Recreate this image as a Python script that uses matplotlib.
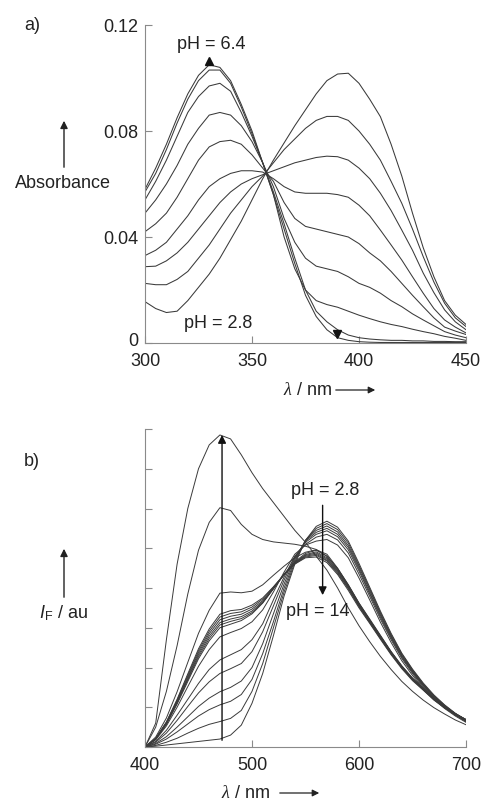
import matplotlib
matplotlib.use('Agg')
import matplotlib.pyplot as plt
from matplotlib.transforms import ScaledTranslation

plt.rcParams['font.family'] = ['Liberation Sans', 'DejaVu Sans']
plt.rcParams['mathtext.fontset'] = 'custom'
plt.rcParams['mathtext.rm'] = 'Liberation Sans'
plt.rcParams['mathtext.it'] = 'Liberation Serif:italic'
plt.rcParams['mathtext.sf'] = 'Liberation Sans:italic'

#===============================================================================
# a) absorbance spectra, pH 2.8 -> 6.4
#===============================================================================
wl_abs = [300, 305, 310, 315, 320, 325, 330, 335, 340, 345, 350, 355, 360, 365, 370, 375,
          380, 385, 390, 395, 400, 405, 410, 415, 420, 425, 430, 435, 440, 445, 450]

abs_ph28 = [0.0156, 0.013, 0.0115, 0.012, 0.016, 0.021, 0.026, 0.032, 0.039, 0.046, 0.054,
            0.062, 0.069, 0.0755, 0.082, 0.088, 0.094, 0.099, 0.1015, 0.1018, 0.098, 0.092,
            0.0854, 0.075, 0.063, 0.049, 0.036, 0.025, 0.016, 0.0105, 0.007]
abs_2 = [0.0225, 0.022, 0.022, 0.024, 0.027, 0.032, 0.037, 0.043, 0.049, 0.054, 0.059, 0.063,
         0.068, 0.073, 0.077, 0.081, 0.084, 0.0855, 0.0855, 0.084, 0.080, 0.075, 0.069, 0.061,
         0.0527, 0.043, 0.0326, 0.023, 0.015, 0.0095, 0.0062]
abs_3 = [0.0288, 0.029, 0.031, 0.034, 0.038, 0.043, 0.048, 0.053, 0.057, 0.060, 0.062, 0.0635,
         0.065, 0.0665, 0.068, 0.069, 0.070, 0.0705, 0.0703, 0.069, 0.066, 0.062, 0.0565, 0.050,
         0.0426, 0.035, 0.0264, 0.019, 0.0125, 0.008, 0.005]
abs_4 = [0.033, 0.035, 0.038, 0.043, 0.048, 0.054, 0.059, 0.062, 0.064, 0.065, 0.065, 0.0645,
         0.062, 0.059, 0.057, 0.0565, 0.0565, 0.0565, 0.056, 0.055, 0.052, 0.048, 0.0426, 0.037,
         0.0313, 0.025, 0.0188, 0.013, 0.0087, 0.006, 0.0038]
abs_5 = [0.042, 0.045, 0.049, 0.055, 0.062, 0.069, 0.074, 0.076, 0.0765, 0.075, 0.071, 0.066,
         0.061, 0.053, 0.047, 0.044, 0.043, 0.042, 0.041, 0.040, 0.0375, 0.034, 0.031, 0.027,
         0.0225, 0.018, 0.0137, 0.0095, 0.006, 0.0045, 0.0032]
abs_6 = [0.049, 0.054, 0.060, 0.067, 0.075, 0.081, 0.086, 0.087, 0.086, 0.082, 0.076, 0.068,
         0.059, 0.047, 0.038, 0.032, 0.029, 0.028, 0.027, 0.025, 0.0225, 0.021, 0.0188, 0.016,
         0.0137, 0.011, 0.0087, 0.0065, 0.0043, 0.003, 0.002]
abs_7 = [0.054, 0.061, 0.069, 0.078, 0.087, 0.093, 0.097, 0.098, 0.095, 0.087, 0.078, 0.068,
         0.056, 0.040, 0.028, 0.020, 0.016, 0.0145, 0.0135, 0.012, 0.0105, 0.0092, 0.008, 0.007,
         0.0062, 0.0052, 0.0043, 0.0035, 0.0025, 0.0018, 0.001]
abs_8 = [0.057, 0.064, 0.073, 0.083, 0.092, 0.099, 0.103, 0.103, 0.098, 0.089, 0.079, 0.068,
         0.057, 0.045, 0.032, 0.020, 0.012, 0.008, 0.005, 0.003, 0.002, 0.0015, 0.0012, 0.001,
         0.001, 0.0008, 0.0008, 0.0006, 0.0006, 0.0005, 0.0005]
abs_ph64 = [0.058, 0.066, 0.075, 0.085, 0.094, 0.101, 0.105, 0.104, 0.099, 0.090, 0.080, 0.068,
            0.056, 0.043, 0.030, 0.018, 0.010, 0.005, 0.002, 0.001, 0.0005, 0.0003, 0.0002,
            0.0002, 0.0002, 0.0002, 0.0002, 0.0002, 0.0002, 0.0002, 0.0002]

abs_curves = [abs_ph28, abs_2, abs_3, abs_4, abs_5, abs_6, abs_7, abs_8, abs_ph64]
abs_yticks = [0, 0.04, 0.08, 0.12]
abs_yticklabels = ['0', '0.04', '0.08', '0.12']
abs_xticks = [300, 350, 400, 450]

#===============================================================================
# b) fluorescence spectra, pH 2.8 -> 14 (arbitrary units, 8 tick steps)
#===============================================================================
wl_fl = [400, 410, 420, 430, 440, 450, 460, 470, 480, 490, 500, 510, 520, 530, 540, 550,
         560, 570, 580, 590, 600, 610, 620, 630, 640, 650, 660, 670, 680, 690, 700]

fl_ph28 = [0, 0.02, 0.05, 0.08, 0.11, 0.14, 0.17, 0.2, 0.3, 0.55, 1.1, 1.85, 2.8, 3.8, 4.6,
           5.2, 5.55, 5.68, 5.53, 5.18, 4.62, 4.02, 3.42, 2.86, 2.36, 1.96, 1.61, 1.31, 1.06,
           0.85, 0.68]
fl_l1 = [0, 0.04, 0.12, 0.22, 0.35, 0.47, 0.57, 0.64, 0.72, 0.92, 1.4, 2.1, 3.0, 3.9, 4.65,
         5.2, 5.5, 5.62, 5.47, 5.13, 4.57, 3.98, 3.38, 2.83, 2.34, 1.94, 1.59, 1.29, 1.05, 0.84,
         0.67]
fl_l2 = [0, 0.07, 0.2, 0.38, 0.58, 0.78, 0.94, 1.06, 1.15, 1.32, 1.7, 2.35, 3.15, 4.0, 4.7,
         5.2, 5.45, 5.56, 5.41, 5.07, 4.53, 3.94, 3.35, 2.80, 2.31, 1.92, 1.57, 1.28, 1.03,
         0.83, 0.66]
fl_l3 = [0, 0.09, 0.26, 0.5, 0.76, 1.02, 1.23, 1.39, 1.5, 1.66, 2.0, 2.6, 3.35, 4.1, 4.75,
         5.18, 5.4, 5.5, 5.35, 5.02, 4.48, 3.89, 3.31, 2.77, 2.29, 1.90, 1.56, 1.27, 1.02, 0.83,
         0.65]
fl_l4 = [0, 0.12, 0.35, 0.67, 1.02, 1.36, 1.64, 1.85, 1.97, 2.1, 2.4, 2.9, 3.55, 4.2, 4.78,
         5.15, 5.35, 5.44, 5.29, 4.96, 4.43, 3.85, 3.27, 2.74, 2.26, 1.88, 1.54, 1.25, 1.01,
         0.82, 0.65]
fl_l5 = [0, 0.14, 0.42, 0.8, 1.2, 1.6, 1.95, 2.19, 2.32, 2.45, 2.7, 3.1, 3.7, 4.28, 4.8, 5.1,
         5.28, 5.35, 5.21, 4.88, 4.35, 3.79, 3.22, 2.70, 2.23, 1.85, 1.51, 1.23, 1.00, 0.80,
         0.64]
fl_l6 = [0, 0.18, 0.53, 1.0, 1.52, 2.03, 2.45, 2.77, 2.88, 2.98, 3.15, 3.45, 3.9, 4.4, 4.85,
         5.08, 5.18, 5.22, 5.08, 4.76, 4.25, 3.70, 3.14, 2.63, 2.17, 1.80, 1.48, 1.20, 0.97,
         0.78, 0.62]
fl_b1 = [0, 0.2, 0.57, 1.08, 1.65, 2.22, 2.67, 3.0, 3.09, 3.18, 3.35, 3.62, 3.98, 4.35, 4.66,
         4.87, 4.95, 4.80, 4.49, 4.08, 3.62, 3.22, 2.81, 2.40, 2.04, 1.73, 1.48, 1.22, 1.02,
         0.84, 0.69]
fl_b2 = [0, 0.2, 0.58, 1.11, 1.69, 2.27, 2.73, 3.07, 3.16, 3.23, 3.38, 3.63, 3.98, 4.34, 4.64,
         4.84, 4.91, 4.76, 4.45, 4.05, 3.59, 3.19, 2.78, 2.38, 2.02, 1.72, 1.47, 1.21, 1.01,
         0.83, 0.69]
fl_b3 = [0, 0.2, 0.59, 1.13, 1.72, 2.32, 2.79, 3.13, 3.22, 3.28, 3.42, 3.65, 3.99, 4.34, 4.63,
         4.82, 4.88, 4.73, 4.43, 4.03, 3.57, 3.17, 2.77, 2.37, 2.01, 1.71, 1.46, 1.21, 1.01,
         0.83, 0.68]
fl_b4 = [0, 0.21, 0.61, 1.15, 1.76, 2.37, 2.85, 3.2, 3.29, 3.34, 3.47, 3.68, 4.0, 4.34, 4.62,
         4.8, 4.85, 4.70, 4.40, 4.0, 3.55, 3.15, 2.75, 2.35, 2.0, 1.70, 1.45, 1.20, 1.0, 0.82,
         0.68]
fl_b5 = [0, 0.21, 0.62, 1.18, 1.8, 2.42, 2.91, 3.27, 3.36, 3.4, 3.52, 3.72, 4.02, 4.34, 4.61,
         4.78, 4.82, 4.68, 4.37, 3.98, 3.53, 3.13, 2.73, 2.34, 1.99, 1.69, 1.44, 1.19, 0.99,
         0.82, 0.67]
fl_b6 = [0, 0.22, 0.63, 1.2, 1.84, 2.47, 2.97, 3.34, 3.43, 3.46, 3.57, 3.75, 4.03, 4.34, 4.6,
         4.76, 4.78, 4.64, 4.34, 3.94, 3.50, 3.11, 2.71, 2.32, 1.97, 1.67, 1.43, 1.18, 0.98,
         0.81, 0.67]
fl_t3 = [0, 0.25, 0.73, 1.39, 2.13, 2.86, 3.44, 3.87, 3.9, 3.88, 3.92, 4.08, 4.32, 4.55, 4.76,
         4.9, 4.96, 4.85, 4.5, 4.08, 3.62, 3.2, 2.8, 2.4, 2.04, 1.73, 1.47, 1.22, 1.02, 0.84,
         0.69]
fl_t2 = [0, 0.5, 1.4, 2.55, 3.85, 4.95, 5.65, 6.02, 5.95, 5.6, 5.35, 5.22, 5.16, 5.13, 5.1,
         5.05, 4.97, 4.8, 4.48, 4.06, 3.6, 3.19, 2.78, 2.38, 2.02, 1.72, 1.46, 1.21, 1.01, 0.83,
         0.68]
fl_ph14 = [0, 0.6, 2.7, 4.6, 6.0, 7.0, 7.6, 7.85, 7.75, 7.35, 6.9, 6.5, 6.15, 5.8, 5.45, 5.15,
           4.8, 4.45, 4.0, 3.5, 3.05, 2.65, 2.28, 1.95, 1.65, 1.4, 1.18, 0.99, 0.83, 0.68, 0.56]

fl_curves = [fl_ph28, fl_l1, fl_l2, fl_l3, fl_l4, fl_l5, fl_l6, fl_b1, fl_b2, fl_b3, fl_b4,
             fl_b5, fl_b6, fl_t3, fl_t2, fl_ph14]
fl_xticks = [400, 500, 600, 700]
fl_yticks = [0, 1, 2, 3, 4, 5, 6, 7, 8]

line_c = '#3a3a3a'
axis_c = '#8a8a8a'
text_c = '#222222'
fs = 13
W, H = 484.0, 800.0


def fx(px):
    return px / W


def fy(py):
    return 1 - py / H


def style_axes(ax):
    for s in ['top', 'right']:
        ax.spines[s].set_visible(False)
    for s in ['left', 'bottom']:
        ax.spines[s].set_color(axis_c)
        ax.spines[s].set_linewidth(0.8)
    ax.tick_params(direction='in', length=5, width=0.8, color=axis_c,
                   labelsize=fs, labelcolor=text_c)
    ax.tick_params(axis='x', pad=7)
    ax.tick_params(axis='y', pad=5)


def side_label(text, px, py, arrow_top, arrow_bottom):
    fig.text(fx(px), fy(py), text, fontsize=fs, color=text_c, ha='center', va='center')
    fig.add_artist(matplotlib.patches.FancyArrowPatch(
        (fx(64), fy(arrow_bottom)), (fx(64), fy(arrow_top)), transform=fig.transFigure,
        arrowstyle='-|>', mutation_scale=11, lw=1.0, color=text_c))


def axis_title(px_text, px_a0, px_a1, py):
    fig.text(fx(px_text), fy(py), r'$\lambda$ / nm', fontsize=fs, color=text_c,
             ha='left', va='center')
    fig.add_artist(matplotlib.patches.FancyArrowPatch(
        (fx(px_a0), fy(py)), (fx(px_a1), fy(py)), transform=fig.transFigure,
        arrowstyle='-|>', mutation_scale=10, lw=0.9, color=text_c))


fig = plt.figure(figsize=(4.84, 8), dpi=100)

################################################################################
# panel a
################################################################################
ax1 = fig.add_axes([fx(145), fy(343), fx(466) - fx(145), fy(25) - fy(343)])
for yv in abs_curves:
    ax1.plot(wl_abs, yv, color=line_c, lw=0.75)
ax1.set_xlim(300, 450)
ax1.set_ylim(0, 0.12)
ax1.set_xticks(abs_xticks)
ax1.set_yticks(abs_yticks)
ax1.set_yticklabels(abs_yticklabels)
style_axes(ax1)
# nudge the "0" label up a few px so it clears the "300" below it
zero_lbl = ax1.get_yticklabels()[0]
zero_lbl.set_transform(zero_lbl.get_transform() +
                       ScaledTranslation(0, 2.5 / 72, fig.dpi_scale_trans))
ax1.text(331, 0.1125, 'pH = 6.4', fontsize=fs, ha='center', va='center', color=text_c)
ax1.text(334, 0.0075, 'pH = 2.8', fontsize=fs, ha='center', va='center', color=text_c)
ax1.plot([330], [0.1065], marker='^', ms=6, color='#111111', clip_on=False)
ax1.plot([389.6], [0.0035], marker='v', ms=6, color='#111111', clip_on=False)

fig.text(fx(32), fy(25), 'a)', fontsize=fs, color=text_c, ha='center', va='center')
side_label('Absorbance', 63, 184, 118, 170)
axis_title(283, 333, 378, 390)

################################################################################
# panel b
################################################################################
ax2 = fig.add_axes([fx(145), fy(747), fx(466) - fx(145), fy(429) - fy(747)])
for yv in fl_curves:
    ax2.plot(wl_fl, yv, color=line_c, lw=0.7)
ax2.set_xlim(400, 700)
ax2.set_ylim(0, 8)
ax2.set_xticks(fl_xticks)
ax2.set_yticks(fl_yticks)
ax2.set_yticklabels([])
style_axes(ax2)

ax2.annotate('', xy=(472, 7.92), xytext=(472, 0.1),
             arrowprops=dict(arrowstyle='-|>', color='#111111', lw=1.0, mutation_scale=12))
ax2.annotate('', xy=(566, 3.75), xytext=(566, 6.15),
             arrowprops=dict(arrowstyle='-|>', color='#111111', lw=1.0, mutation_scale=12))
ax2.text(568, 6.45, 'pH = 2.8', fontsize=fs, ha='center', va='center', color=text_c)
ax2.text(561, 3.42, 'pH = 14', fontsize=fs, ha='center', va='center', color=text_c)

fig.text(fx(32), fy(462), 'b)', fontsize=fs, color=text_c, ha='center', va='center')
side_label(r'$\mathsf{I}_\mathrm{F}$ / au', 64, 613, 546, 600)
axis_title(221, 277, 322, 793)

plt.savefig('out.png', dpi=100)
print('[INFO] out.png is saved!')
